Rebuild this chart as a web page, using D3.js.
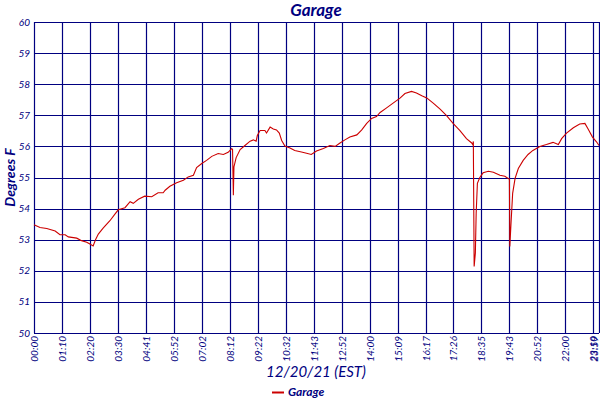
<!DOCTYPE html>
<html><head><meta charset="utf-8">
<script src="https://cdn.jsdelivr.net/npm/d3@7"></script>
<style>body{margin:0;background:#fff}svg{display:block}text{font-family:Lato,"Noto Sans",sans-serif;font-style:italic;fill:#000080}</style>
</head><body><svg id="c" width="600" height="400"></svg>
<script>
const title = "Garage";
const xTitle = "12/20/21 (EST)";
const yTitle = "Degrees F";
const seriesName = "Garage";
const xTickLabels = ["00:00","01:10","02:20","03:30","04:41","05:52","07:02","08:12","09:22","10:32","11:43","12:52","14:00","15:09","16:17","17:26","18:35","19:43","20:52","22:00","23:10","23:59"];
const yTicks = [50,51,52,53,54,55,56,57,58,59,60];
// minutes since midnight
const minutes = [0,15,32,53,65,78,86,107,119,132,140,148,154,161,173,190,203,211,228,241,249,262,278,296,312,325,330,342,359,376,388,401,409,422,434,447,463,476,488,
497,499,501,502.5,508,518,530,543,551,558,561,568,580,584,593,601,609,616,622,630,643,655,672,685,697,710,727,743,756,768,780,792,809,821,833,845,857,866,882,898,915,927,943,955,
968,980,996,1013,1029,1045,1062,1078,1091,1094,1095,1097,1100,1102,1105,1111,1119,1132,1144,1160,1172,1180,1183,1184,1187,1191,1197,1205,1217,1229,1241,1258,1274,1290,1303,1311,1323,1340,1356,1369,1377,1388,1419,1439];
const temps = [53.48,53.39,53.36,53.28,53.16,53.16,53.09,53.05,52.97,52.92,52.86,52.80,53.00,53.18,53.37,53.61,53.83,53.96,54.03,54.22,54.17,54.30,54.40,54.38,54.51,54.51,54.59,54.72,54.83,54.91,55.02,55.07,55.32,55.45,55.55,55.68,55.77,55.74,55.81,
55.93,55.90,54.43,55.34,55.64,55.90,56.03,56.17,56.21,56.17,56.35,56.51,56.51,56.43,56.62,56.56,56.53,56.43,56.19,56.01,55.95,55.87,55.82,55.78,55.74,55.85,55.93,56.03,56.00,56.11,56.21,56.30,56.37,56.53,56.74,56.90,56.96,57.09,57.24,57.39,57.55,57.70,57.77,57.72,
57.63,57.56,57.39,57.20,56.99,56.74,56.51,56.25,56.11,56.05,56.16,52.14,52.57,53.85,54.81,55.00,55.15,55.20,55.17,55.07,55.04,54.97,54.95,52.78,53.53,54.49,54.97,55.29,55.55,55.74,55.87,56.00,56.06,56.13,56.06,56.25,56.43,56.60,56.72,56.74,56.56,56.30,56.14,56.03];

const W = 600, H = 400;
const m = {left: 34, right: 1, top: 22, bottom: 67};
const pw = W - m.left - m.right, ph = H - m.top - m.bottom;
const toMin = s => { const [h, mm] = s.split(":").map(Number); return h * 60 + mm; };
const tickMin = xTickLabels.map(toMin);
const step = 27.965;
const x = d3.scaleLinear().domain(tickMin).range(tickMin.map((_, i) => i < tickMin.length - 1 ? i * step : pw));
const y = d3.scaleLinear().domain([50, 60]).range([ph, 0]);

const svg = d3.select("#c");
const g = svg.append("g").attr("transform", `translate(${m.left},${m.top})`);

// grid
g.append("g").selectAll("line").data(yTicks).join("line")
  .attr("x1", 0).attr("x2", pw)
  .attr("y1", d => Math.round(y(d)) + 0.5).attr("y2", d => Math.round(y(d)) + 0.5)
  .attr("stroke", "#000080").attr("stroke-width", 1.2);
g.append("g").selectAll("line").data(tickMin).join("line")
  .attr("x1", d => Math.round(x(d)) + 0.5).attr("x2", d => Math.round(x(d)) + 0.5)
  .attr("y1", 0).attr("y2", ph)
  .attr("stroke", "#000080").attr("stroke-width", 1.2);

// y tick labels
g.append("g").selectAll("text").data(yTicks).join("text")
  .attr("x", -4).attr("y", d => y(d)).attr("dy", "0.35em")
  .attr("text-anchor", "end").attr("font-size", 10).text(d => d);

// x tick labels
g.append("g").selectAll("text").data(xTickLabels).join("text")
  .attr("transform", (d, i) => `translate(${Math.min(x(tickMin[i]) + 0.5, pw - 5)},${ph + 3}) rotate(-90)`)
  .attr("dy", "0.35em").attr("text-anchor", "end").attr("font-size", 10).text(d => d);

// line
const data = minutes.map((t, i) => [t, temps[i]]);
g.append("path").datum(data)
  .attr("fill", "none").attr("stroke", "#cc0000").attr("stroke-width", 1.1)
  .attr("d", d3.line().x(d => x(d[0])).y(d => y(d[1])));

// titles
svg.append("text").attr("x", 316).attr("y", 16).attr("text-anchor", "middle")
  .attr("font-size", 17).attr("font-weight", "bold").text(title);
svg.append("text").attr("transform", `translate(15,${m.top + ph / 2}) rotate(-90)`)
  .attr("text-anchor", "middle").attr("font-size", 14).attr("font-weight", "bold").text(yTitle);
svg.append("text").attr("x", 316).attr("y", 377).attr("text-anchor", "middle")
  .attr("font-size", 15).text(xTitle);

// legend
const lg = svg.append("g").attr("transform", "translate(272,392)");
lg.append("line").attr("x1", 0).attr("x2", 12).attr("y1", 0.5).attr("y2", 0.5)
  .attr("stroke", "#cc0000").attr("stroke-width", 2);
lg.append("text").attr("x", 16).attr("y", 0).attr("dy", "0.35em")
  .attr("font-size", 12).attr("font-weight", "bold").text(seriesName);
</script></body></html>
